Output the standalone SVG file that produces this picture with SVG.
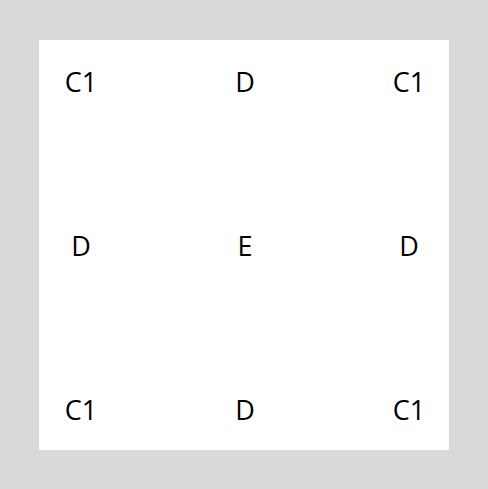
<svg xmlns="http://www.w3.org/2000/svg" width="488" height="489" viewBox="0 0 488 489">
<style>
.l{font-family:"Open Sans","Noto Sans",sans-serif;font-size:27px;fill:#000;text-anchor:middle}
</style>
<rect x="0" y="0" width="488" height="489" fill="#d9d9d9"/>
<rect x="39" y="40" width="410" height="410" fill="#fff"/>
<g id="n11"><text class="l" x="81" y="92">C1</text></g>
<g id="n12"><text class="l" x="245" y="92">D</text></g>
<g id="n13"><text class="l" x="409" y="92">C1</text></g>
<g id="n21"><text class="l" x="81" y="256">D</text></g>
<g id="n22"><text class="l" x="245" y="256">E</text></g>
<g id="n23"><text class="l" x="409" y="256">D</text></g>
<g id="n31"><text class="l" x="81" y="420">C1</text></g>
<g id="n32"><text class="l" x="245" y="420">D</text></g>
<g id="n33"><text class="l" x="409" y="420">C1</text></g>
<g id="connectors"></g>
</svg>
